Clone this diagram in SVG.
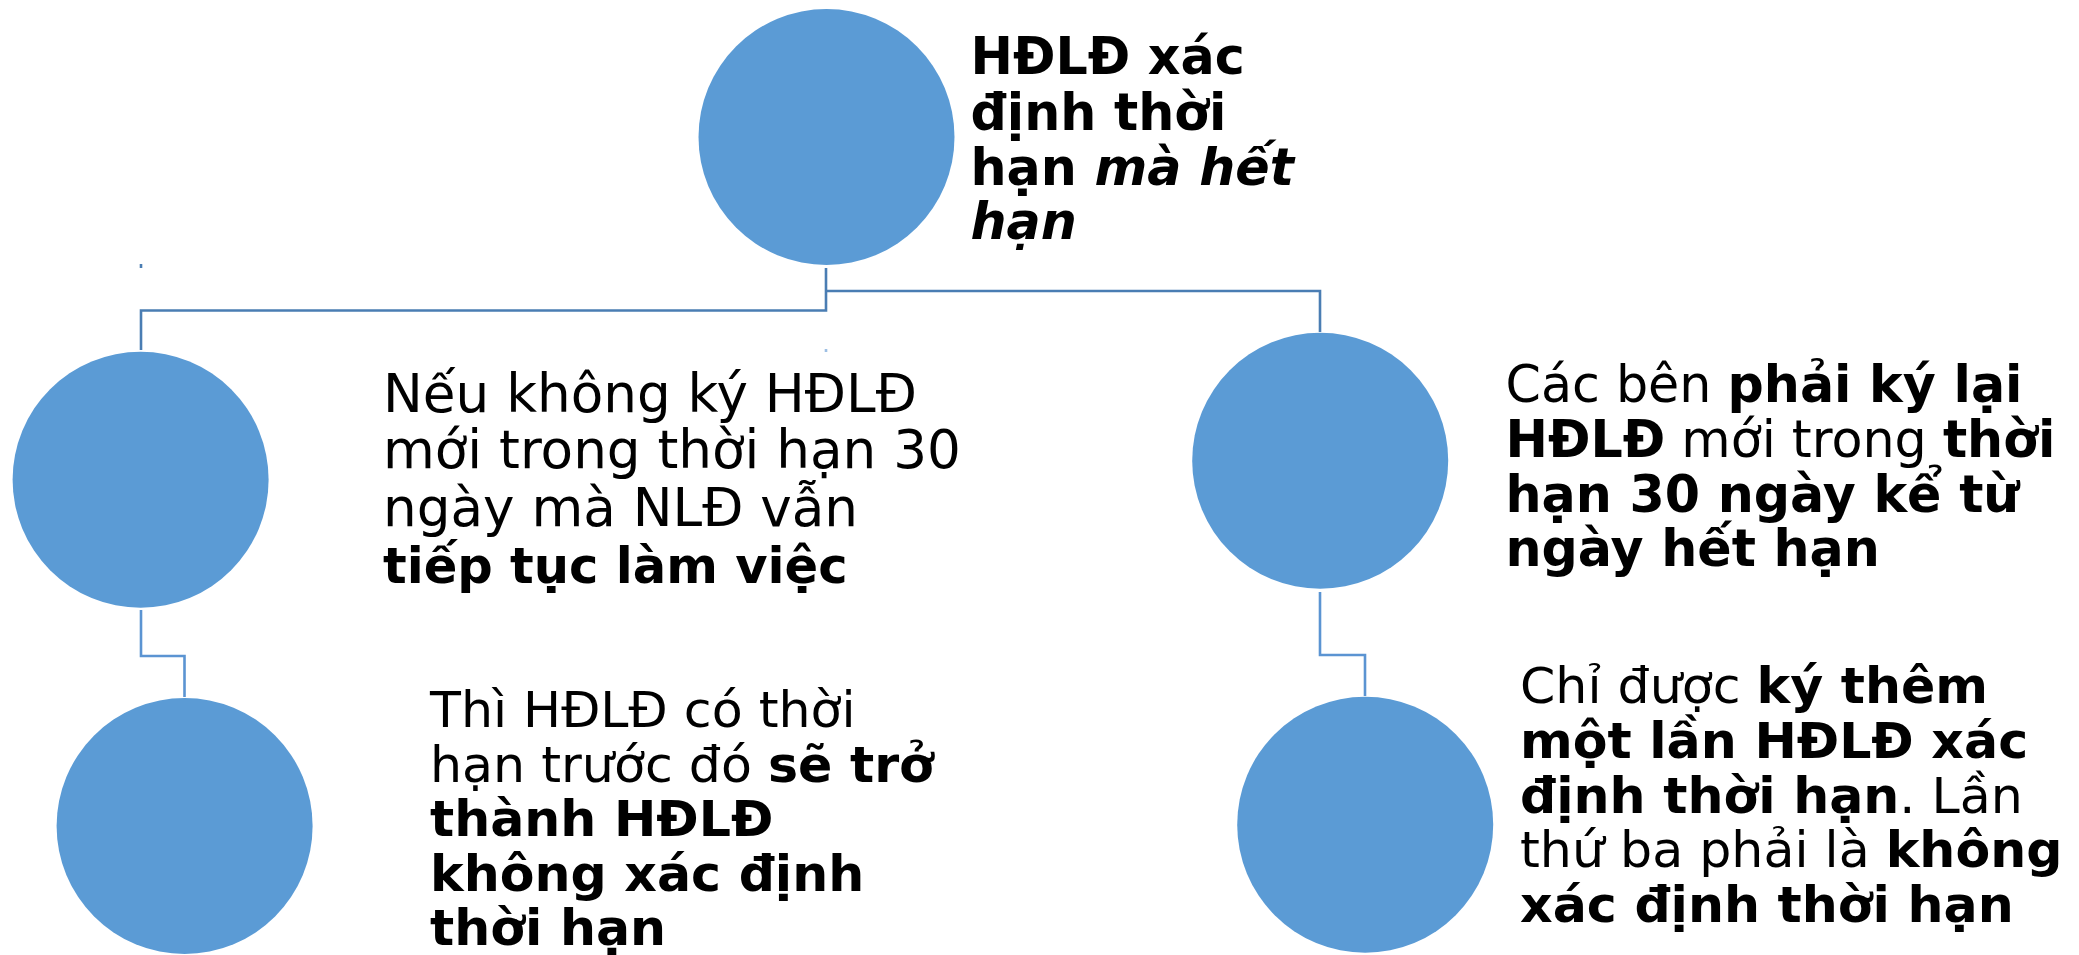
<svg xmlns="http://www.w3.org/2000/svg" width="2079" height="955" viewBox="0 0 2079 955">
  <style>
    .node { fill: #5b9bd5; }
    .link { fill: none; stroke-width: 2.6; }
    .dark { stroke: #4a7db3; }
    .light { stroke: #5b94d2; }
    .txt { font-family: "DejaVu Sans", "Noto Sans", sans-serif; fill: #000; }
    .b { font-weight: bold; }
    .i { font-style: italic; }
  </style>
  <rect width="2079" height="955" fill="#ffffff"/>

  <!-- connectors -->
  <g id="connectors">
    <polyline class="link dark" points="826,268 826,310.5 141,310.5 141,350"/>
    <polyline class="link dark" points="826,291 1320,291 1320,332"/>
    <polyline class="link light" points="141,610 141,656 184.5,656 184.5,697"/>
    <polyline class="link light" points="1320,592 1320,655 1365,655 1365,696"/>
    <line class="link dark" x1="141" y1="264" x2="141" y2="268" stroke-width="1.5"/>
    <line class="link light" x1="826" y1="349" x2="826" y2="352" stroke-width="1.5" opacity="0.6"/>
  </g>

  <!-- root -->
  <g id="root">
    <circle class="node" cx="826.5" cy="137" r="128"/>
    <text class="txt b" font-size="50.7">
      <tspan x="970.5" y="74">HĐLĐ xác</tspan>
      <tspan x="970.5" y="130">định thời</tspan>
      <tspan x="970.5" y="185">hạn <tspan class="i">mà hết</tspan></tspan>
      <tspan x="970.5" y="239" class="i">hạn</tspan>
    </text>
  </g>

  <!-- left branch -->
  <g id="left">
    <circle class="node" cx="140.6" cy="479.7" r="128"/>
    <text class="txt" font-size="53.2">
      <tspan x="383" y="411.7">Nếu không ký HĐLĐ</tspan>
      <tspan x="383" y="468.3">mới trong thời hạn 30</tspan>
      <tspan x="383" y="526">ngày mà NLĐ vẫn</tspan>
      <tspan x="383" y="583.3" class="b" font-size="49.6">tiếp tục làm việc</tspan>
    </text>
  </g>

  <!-- right branch -->
  <g id="right">
    <circle class="node" cx="1320.2" cy="460.8" r="128"/>
    <text class="txt" font-size="50.7">
      <tspan x="1505.5" y="401.7">Các bên <tspan class="b">phải ký lại</tspan></tspan>
      <tspan x="1505.5" y="456.7"><tspan class="b">HĐLĐ</tspan> mới trong <tspan class="b">thời</tspan></tspan>
      <tspan x="1505.5" y="511.7" class="b">hạn 30 ngày kể từ</tspan>
      <tspan x="1505.5" y="566" class="b">ngày hết hạn</tspan>
    </text>
  </g>

  <!-- left leaf -->
  <g id="left-leaf">
    <circle class="node" cx="184.6" cy="826" r="128"/>
    <text class="txt" font-size="50.6">
      <tspan x="430" y="726.7">Thì HĐLĐ có thời</tspan>
      <tspan x="430" y="781.7">hạn trước đó <tspan class="b">sẽ trở</tspan></tspan>
      <tspan x="430" y="835.7" class="b">thành HĐLĐ</tspan>
      <tspan x="430" y="891" class="b">không xác định</tspan>
      <tspan x="430" y="945" class="b">thời hạn</tspan>
    </text>
  </g>

  <!-- right leaf -->
  <g id="right-leaf">
    <circle class="node" cx="1365.2" cy="824.7" r="128"/>
    <text class="txt" font-size="50.6">
      <tspan x="1520" y="703.3">Chỉ được <tspan class="b">ký thêm</tspan></tspan>
      <tspan x="1520" y="758.3" class="b">một lần HĐLĐ xác</tspan>
      <tspan x="1520" y="813.3"><tspan class="b">định thời hạn</tspan>. Lần</tspan>
      <tspan x="1520" y="866.7">thứ ba phải là <tspan class="b">không</tspan></tspan>
      <tspan x="1520" y="921.7" class="b">xác định thời hạn</tspan>
    </text>
  </g>
</svg>
